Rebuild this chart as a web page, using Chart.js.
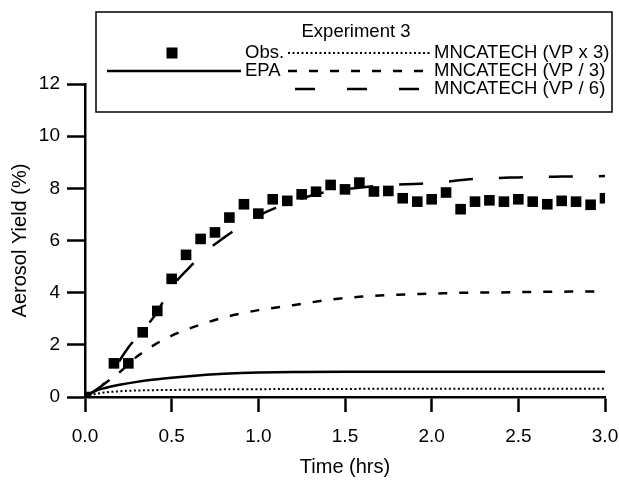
<!DOCTYPE html>
<html><head><meta charset="utf-8">
<script src="https://cdn.jsdelivr.net/npm/chart.js@4.4.0/dist/chart.umd.min.js"></script>
<style>html,body{margin:0;padding:0;background:#fff;}#wrap{width:619px;height:482px;position:relative;}</style>
</head><body><div id="wrap"><canvas id="c" width="619" height="482"></canvas></div>
<script>
// ---- data ----
const legendTitle = 'Experiment 3';
const seriesNames = ['Obs.', 'EPA', 'MNCATECH (VP x 3)', 'MNCATECH (VP / 3)', 'MNCATECH (VP / 6)'];
const xAxisTitle = 'Time (hrs)';
const yAxisTitle = 'Aerosol Yield (%)';
const xTickValues = [0, 0.5, 1.0, 1.5, 2.0, 2.5, 3.0];
const xTickLabels = ['0.0', '0.5', '1.0', '1.5', '2.0', '2.5', '3.0'];
const yTickValues = [0, 2, 4, 6, 8, 10, 12];
const yTickLabels = ['0', '2', '4', '6', '8', '10', '12'];

const obsTime = [0, 0.167, 0.25, 0.333, 0.417, 0.5, 0.583, 0.667, 0.75, 0.833, 0.917, 1.0, 1.083, 1.167, 1.25, 1.333, 1.417, 1.5, 1.583, 1.667, 1.75, 1.833, 1.917, 2.0, 2.083, 2.167, 2.25, 2.333, 2.417, 2.5, 2.583, 2.667, 2.75, 2.833, 2.917, 3.0];
const obsYield = [0, 1.29, 1.29, 2.48, 3.3, 4.53, 5.45, 6.06, 6.31, 6.88, 7.39, 7.03, 7.58, 7.52, 7.77, 7.87, 8.13, 7.96, 8.22, 7.88, 7.9, 7.62, 7.49, 7.58, 7.84, 7.2, 7.49, 7.54, 7.49, 7.58, 7.49, 7.39, 7.52, 7.49, 7.37, 7.62];

const epaTime = [0, 0.05, 0.1, 0.15, 0.2, 0.3, 0.4, 0.5, 0.6, 0.7, 0.8, 0.9, 1.0, 1.25, 1.5, 2.0, 2.5, 3.0];
const epaYield = [0, 0.2, 0.32, 0.4, 0.47, 0.58, 0.67, 0.74, 0.8, 0.85, 0.89, 0.92, 0.94, 0.96, 0.97, 0.97, 0.97, 0.97];

const vpx3Time = [0, 0.05, 0.1, 0.2, 0.3, 0.5, 0.75, 1.0, 1.5, 2.0, 2.5, 3.0];
const vpx3Yield = [0, 0.1, 0.16, 0.22, 0.25, 0.27, 0.29, 0.3, 0.31, 0.32, 0.32, 0.32];

const vp3Time = [0, 0.1, 0.2, 0.3, 0.4, 0.5, 0.6, 0.7, 0.8, 0.9, 1.0, 1.2, 1.4, 1.6, 1.8, 2.0, 2.2, 2.4, 2.6, 2.8, 3.0];
const vp3Yield = [0, 0.45, 0.95, 1.55, 2.0, 2.35, 2.62, 2.85, 3.05, 3.2, 3.33, 3.52, 3.72, 3.85, 3.92, 3.96, 4.0, 4.01, 4.03, 4.04, 4.04];

const vp6Time = [0, 0.1, 0.15, 0.2, 0.25, 0.3, 0.4, 0.5, 0.6, 0.7, 0.8, 0.9, 1.0, 1.1, 1.2, 1.35, 1.5, 1.7, 1.9, 2.0, 2.25, 2.5, 2.75, 3.0];
const vp6Yield = [0, 0.45, 0.8, 1.4, 1.9, 2.3, 3.1, 4.2, 4.95, 5.6, 6.1, 6.55, 6.95, 7.25, 7.5, 7.8, 7.96, 8.1, 8.17, 8.2, 8.36, 8.42, 8.45, 8.47];

const pts = (xs, ys) => xs.map((x, i) => ({x: x, y: ys[i]}));
const FONT = "'Liberation Sans', Arial, Helvetica, sans-serif";

const dashVPx3 = [2, 2.5];
const dashVP3 = [9, 12];
const dashVP6 = [24, 26];

const legendPlugin = {
  id: 'boxLegend',
  afterDraw(chart) {
    const ctx = chart.ctx;
    const ds = chart.data.datasets;
    ctx.save();
    ctx.strokeStyle = '#000';
    ctx.lineWidth = 1.5;
    ctx.strokeRect(96, 12, 516, 100);
    ctx.fillStyle = '#000';
    ctx.font = '18.5px ' + FONT;
    ctx.textBaseline = 'middle';
    ctx.textAlign = 'center';
    ctx.fillText(legendTitle, 356, 32);
    ctx.fillRect(166.5, 47.5, 11, 11);
    ctx.textAlign = 'left';
    ctx.fillText(ds[0].label, 245, 53);
    const line = (x1, x2, y, dash, w) => {
      ctx.beginPath();
      ctx.setLineDash(dash);
      ctx.lineWidth = w;
      ctx.moveTo(x1, y); ctx.lineTo(x2, y); ctx.stroke();
      ctx.setLineDash([]);
    };
    line(288, 430, 53, dashVPx3, 2);
    ctx.fillText(ds[2].label, 434, 53);
    line(107, 241, 71, [], 2.5);
    ctx.fillText(ds[1].label, 245, 71);
    line(288, 430, 71, dashVP3, 2.5);
    ctx.fillText(ds[3].label, 434, 71);
    line(295, 430, 89, [20, 32], 2.5);
    ctx.fillText(ds[4].label, 434, 89);
    ctx.restore();
  }
};

new Chart(document.getElementById('c'), {
  type: 'scatter',
  data: {
    datasets: [
      {label: seriesNames[0], data: pts(obsTime, obsYield), showLine: false, pointStyle: 'rect', pointRadius: 7.5, pointBorderWidth: 0, backgroundColor: '#000', borderColor: '#000', order: 0},
      {label: seriesNames[1], data: pts(epaTime, epaYield), showLine: true, pointRadius: 0, borderColor: '#000', borderWidth: 2.5, cubicInterpolationMode: 'monotone', order: 1},
      {label: seriesNames[2], data: pts(vpx3Time, vpx3Yield), showLine: true, pointRadius: 0, borderColor: '#000', borderWidth: 2, borderDash: dashVPx3, cubicInterpolationMode: 'monotone', order: 2},
      {label: seriesNames[3], data: pts(vp3Time, vp3Yield), showLine: true, pointRadius: 0, borderColor: '#000', borderWidth: 2.5, borderDash: dashVP3, cubicInterpolationMode: 'monotone', order: 3},
      {label: seriesNames[4], data: pts(vp6Time, vp6Yield), showLine: true, pointRadius: 0, borderColor: '#000', borderWidth: 2.5, borderDash: dashVP6, cubicInterpolationMode: 'monotone', order: 4}
    ]
  },
  options: {
    responsive: false,
    animation: false,
    devicePixelRatio: 1,
    layout: {padding: {top: 84, right: 14, left: 0, bottom: 0}},
    plugins: {legend: {display: false}, tooltip: {enabled: false}},
    scales: {
      x: {
        type: 'linear', min: 0, max: 3,
        afterFit(s) { s.height = 85; s.paddingLeft = 0; s.paddingRight = 0; },
        afterBuildTicks(s) { s.ticks = xTickValues.map(v => ({value: v})); },
        ticks: {
          color: '#000', font: {family: FONT, size: 19}, padding: 13, maxRotation: 0,
          callback: (v) => { const i = xTickValues.indexOf(v); return i >= 0 ? xTickLabels[i] : ''; }
        },
        grid: {display: true, drawOnChartArea: false, drawTicks: true, tickLength: 15, tickWidth: 2.5, color: '#000'},
        border: {display: true, color: '#000', width: 2.5},
        title: {display: true, text: xAxisTitle, color: '#000', font: {family: FONT, size: 20}, padding: {top: 0, bottom: 3}}
      },
      y: {
        type: 'linear', min: 0, max: 12,
        afterFit(s) { s.width = 85; s.paddingTop = 0; s.paddingBottom = 0; },
        afterBuildTicks(s) { s.ticks = yTickValues.map(v => ({value: v})); },
        ticks: {
          color: '#000', font: {family: FONT, size: 19}, padding: 7,
          callback: (v) => { const i = yTickValues.indexOf(v); return i >= 0 ? yTickLabels[i] : ''; }
        },
        grid: {display: true, drawOnChartArea: false, drawTicks: true, tickLength: 18, tickWidth: 2.5, color: '#000'},
        border: {display: true, color: '#000', width: 2.5},
        title: {display: true, text: yAxisTitle, color: '#000', font: {family: FONT, size: 20}, padding: {top: 8, bottom: 0}}
      }
    }
  },
  plugins: [legendPlugin]
});
</script>
</body></html>
